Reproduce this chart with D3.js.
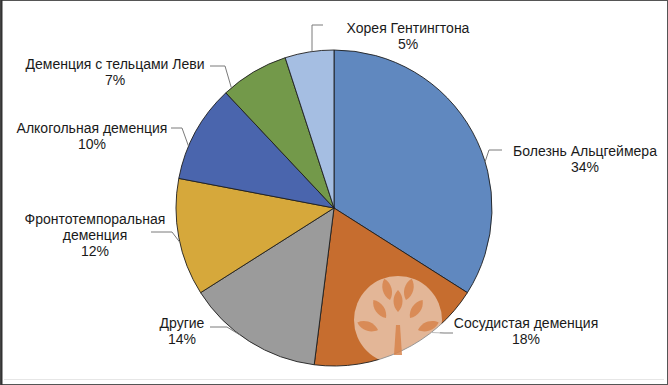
<!DOCTYPE html>
<html><head><meta charset="utf-8">
<script src="https://cdn.jsdelivr.net/npm/d3@7"></script>
<style>body{margin:0;background:#fff}svg{display:block}text{font-family:"Liberation Sans",Arial,sans-serif;font-size:14px;fill:#1a1a1a}</style>
</head><body><svg id="c" width="668" height="385"></svg>
<script>
// ---- data ----
const categories = ["Болезнь Альцгеймера","Сосудистая деменция","Другие","Фронтотемпоральная деменция","Алкогольная деменция","Деменция с тельцами Леви","Хорея Гентингтона"];
const values = [34, 18, 14, 12, 10, 7, 5];
const labelLines = [["Болезнь Альцгеймера"],["Сосудистая деменция"],["Другие"],["Фронтотемпоральная","деменция"],["Алкогольная деменция"],["Деменция с тельцами Леви"],["Хорея Гентингтона"]];
const colors = ["#6088bf","#c66d2f","#9b9b9b","#d6a83b","#4a65ad","#73994a","#a5bee2"];

// ---- layout (label anchors, leader elbows, edge angles in degrees) ----
const labelLayout = [
  {x:585, y:156, elbow:[[502,150],[489,150]], edgeDeg:73},
  {x:526, y:328, elbow:[[453,333],[444,333]], edgeDeg:142},
  {x:182, y:328, elbow:[[210,327],[227,327]], edgeDeg:216.5},
  {x:95,  y:224, elbow:[[151,232],[172,232]], edgeDeg:257.5},
  {x:92,  y:133, elbow:[[171,128],[182,128]], edgeDeg:293},
  {x:115, y:69,  elbow:[[210,66],[225,66]],  edgeDeg:319.5},
  {x:408, y:33,  elbow:[[323,25],[312,25]],  edgeDeg:352}
];

const W = 668, H = 385, cx = 334, cy = 208, R = 158;
const svg = d3.select("#c");

// frame
svg.append("rect").attr("x",0.5).attr("y",0.5).attr("width",W-1).attr("height",H-1)
  .attr("fill","#fff").attr("stroke","#555").attr("stroke-width",1);
svg.append("line").attr("x1",1.5).attr("x2",1.5).attr("y1",0).attr("y2",H).attr("stroke","#333").attr("stroke-width",2);
svg.append("line").attr("x1",4).attr("x2",W-4).attr("y1",H-5.5).attr("y2",H-5.5).attr("stroke","#e6e6e6");

const data = categories.map((c,i)=>({cat:c, value:values[i], lines:labelLines[i], color:colors[i], lay:labelLayout[i]}));
const pie = d3.pie().value(d=>d.value).sort(null);
const arc = d3.arc().innerRadius(0).outerRadius(R);
const arcs = pie(data);

const g = svg.append("g").attr("transform",`translate(${cx},${cy})`);
g.selectAll("path").data(arcs).join("path")
  .attr("d",arc).attr("fill",d=>d.data.color)
  .attr("stroke","#1e1e1e").attr("stroke-width",0.9).attr("stroke-linejoin","round");

// leader lines
const line = d3.line();
svg.selectAll("path.leader").data(arcs).join("path").attr("class","leader")
  .attr("d",d=>{
    const p = d3.pointRadial(d.data.lay.edgeDeg*Math.PI/180, R);
    const pts = d.data.lay.elbow.concat([[cx+p[0], cy+p[1]]]);
    return line(pts);
  })
  .attr("fill","none").attr("stroke","#7a7a7a").attr("stroke-width",1);

// labels
const lab = svg.selectAll("text.lab").data(arcs).join("text").attr("class","lab")
  .attr("text-anchor","middle");
lab.each(function(d){
  const t = d3.select(this);
  const all = d.data.lines.concat([d.data.value + "%"]);
  all.forEach((s,i)=>{
    t.append("tspan").attr("x",d.data.lay.x).attr("y",d.data.lay.y + i*16).text(s);
  });
});

// watermark (decorative)
const wm = svg.append("g").attr("transform","translate(398,320)");
wm.append("circle").attr("r",44).attr("fill","#fff").attr("opacity",0.5);
const leaf = "M0,0 C6,-6 6,-16 0,-22 C-6,-16 -6,-6 0,0Z";
[[0,-8,0],[-12,-2,-35],[12,-2,35],[-20,10,-70],[20,10,70],[-8,-20,-15],[8,-20,15]].forEach(([x,y,r])=>{
  wm.append("path").attr("d",leaf).attr("transform",`translate(${x},${y}) rotate(${r})`)
    .attr("fill","#d7844b").attr("opacity",0.85);
});
wm.append("path").attr("d","M-4,35 L-2,5 L2,5 L4,35Z").attr("fill","#d7844b").attr("opacity",0.85);
</script></body></html>
